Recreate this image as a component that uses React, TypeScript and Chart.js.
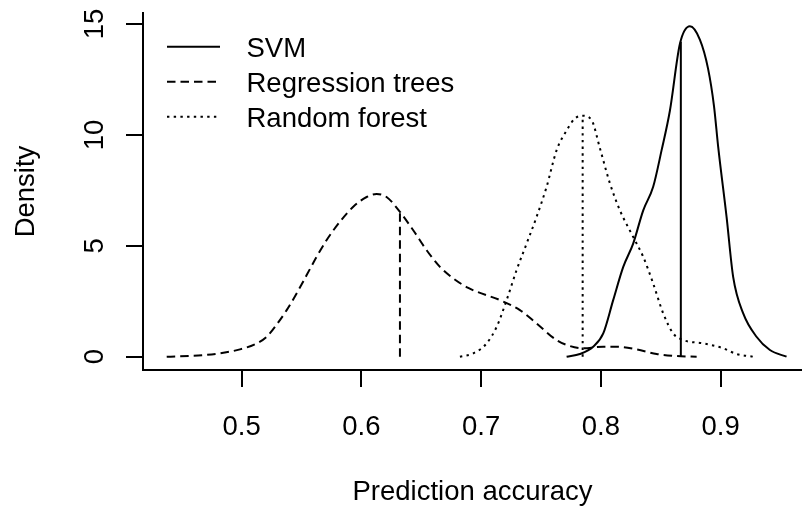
import React, { useEffect, useRef } from "react";
import { Chart, registerables } from "chart.js";

Chart.register(...registerables);

// ---- data ----
const svmX = [0.7714, 0.7825, 0.7936, 0.802, 0.8103, 0.8187, 0.827, 0.8354, 0.8437, 0.8507, 0.8577, 0.866, 0.8744, 0.8827, 0.8895, 0.8945, 0.898, 0.905, 0.9105, 0.9189, 0.93, 0.9412, 0.9551];
const svmY = [0, 0.12, 0.45, 1.05, 2.55, 4.05, 5.1, 6.6, 7.66, 9.3, 11.1, 14.1, 14.9, 14.3, 13.0, 11.3, 9.46, 6.3, 3.6, 1.95, 0.9, 0.3, 0];

const treeX = [0.4374, 0.4708, 0.4986, 0.5125, 0.5209, 0.529, 0.5376, 0.546, 0.5543, 0.5626, 0.571, 0.582, 0.5932, 0.6044, 0.6127, 0.621, 0.6322, 0.6433, 0.6545, 0.6656, 0.6767, 0.6893, 0.7171, 0.7324, 0.7463, 0.763, 0.7742, 0.7853, 0.802, 0.8132, 0.8299, 0.8466, 0.8633, 0.88];
const treeY = [0, 0.08, 0.33, 0.6, 0.9, 1.43, 2.1, 2.86, 3.68, 4.5, 5.26, 6.08, 6.76, 7.2, 7.33, 7.2, 6.53, 5.7, 4.8, 4.05, 3.53, 3.1, 2.52, 2.1, 1.5, 0.75, 0.48, 0.38, 0.45, 0.45, 0.33, 0.12, 0.03, 0];

const forestX = [0.6823, 0.6934, 0.7046, 0.713, 0.7213, 0.7296, 0.738, 0.7463, 0.7547, 0.763, 0.7714, 0.7783, 0.7848, 0.7923, 0.7992, 0.8076, 0.8159, 0.827, 0.8354, 0.8437, 0.8521, 0.8604, 0.8688, 0.8855, 0.9022, 0.9133, 0.9272];
const forestY = [0, 0.15, 0.6, 1.35, 2.55, 3.9, 5.1, 6.3, 7.66, 9.3, 10.2, 10.74, 10.86, 10.66, 9.4, 7.81, 6.6, 5.4, 4.5, 3.3, 1.95, 1.05, 0.75, 0.6, 0.38, 0.12, 0];

// vertical marker lines: position and height (reaching the curve)
const markerX = [0.8668, 0.6322, 0.7848];
const markerTop = [14.2, 6.53, 10.86];

const seriesNames = ["SVM", "Regression trees", "Random forest"];
const xTicks = [0.5, 0.6, 0.7, 0.8, 0.9];
const xTickLabels = ["0.5", "0.6", "0.7", "0.8", "0.9"];
const yTicks = [0, 5, 10, 15];
const yTickLabels = ["0", "5", "10", "15"];
const xTitle = "Prediction accuracy";
const yTitle = "Density";

const DASHES: number[][] = [[], [8.5, 5], [2.4, 4.3]];
const FONT = '27.5px "Liberation Sans", Arial, sans-serif';

const pts = (xs: number[], ys: number[]) => xs.map((x, i) => ({ x, y: ys[i] }));

const textPlugin = {
  id: "rText",
  afterDraw(chart: any) {
    const ctx = chart.ctx as CanvasRenderingContext2D;
    const xs = chart.scales.x;
    const ys = chart.scales.y;
    const area = chart.chartArea;
    ctx.save();
    ctx.fillStyle = "#000";
    ctx.font = FONT;
    ctx.textBaseline = "alphabetic";
    ctx.textAlign = "center";
    xTicks.forEach((v, i) => ctx.fillText(xTickLabels[i], xs.getPixelForValue(v), 435));
    yTicks.forEach((v, i) => {
      ctx.save();
      ctx.translate(103, ys.getPixelForValue(v));
      ctx.rotate(-Math.PI / 2);
      ctx.fillText(yTickLabels[i], 0, 0);
      ctx.restore();
    });
    ctx.fillText(xTitle, (area.left + area.right) / 2, 500);
    ctx.save();
    ctx.translate(34, (area.top + area.bottom) / 2);
    ctx.rotate(-Math.PI / 2);
    ctx.fillText(yTitle, 0, 0);
    ctx.restore();

    // legend
    ctx.textAlign = "left";
    seriesNames.forEach((name, i) => {
      const yLine = 46.7 + i * 35;
      ctx.beginPath();
      ctx.setLineDash(DASHES[i]);
      ctx.lineWidth = 2;
      ctx.strokeStyle = "#000";
      ctx.moveTo(167, yLine);
      ctx.lineTo(220, yLine);
      ctx.stroke();
      ctx.setLineDash([]);
      ctx.fillText(name, 246.5, yLine + 10.5);
    });
    ctx.restore();
  },
};

export default function App() {
  const ref = useRef<HTMLCanvasElement | null>(null);
  useEffect(() => {
    if (!ref.current) return;
    const curves = [pts(svmX, svmY), pts(treeX, treeY), pts(forestX, forestY)];
    const datasets: any[] = [];
    curves.forEach((d, i) => {
      datasets.push({
        label: seriesNames[i],
        data: d,
        showLine: true,
        borderColor: "#000",
        borderWidth: 2,
        borderDash: DASHES[i],
        pointRadius: 0,
        fill: false,
        cubicInterpolationMode: "monotone",
      });
      datasets.push({
        label: seriesNames[i] + " mark",
        data: [
          { x: markerX[i], y: 0 },
          { x: markerX[i], y: markerTop[i] },
        ],
        showLine: true,
        borderColor: "#000",
        borderWidth: 2,
        borderDash: DASHES[i],
        pointRadius: 0,
        fill: false,
      });
    });
    const chart = new Chart(ref.current, {
      type: "scatter",
      data: { datasets },
      options: {
        responsive: false,
        animation: false,
        devicePixelRatio: 1,
        layout: { padding: { top: 13, left: 0, right: 0, bottom: 0 } },
        plugins: { legend: { display: false }, tooltip: { enabled: false }, title: { display: false } },
        scales: {
          x: {
            type: "linear",
            min: 0.4176,
            max: 0.968,
            afterBuildTicks: (s: any) => {
              s.ticks = xTicks.map((v) => ({ value: v }));
            },
            afterFit: (s: any) => {
              s.height = 136;
            },
            ticks: { display: false },
            grid: { display: true, drawOnChartArea: false, drawTicks: true, tickLength: 17, color: "#000", lineWidth: 2 },
            border: { display: true, color: "#000", width: 2 },
          },
          y: {
            type: "linear",
            min: -0.6,
            max: 15.495,
            afterBuildTicks: (s: any) => {
              s.ticks = yTicks.map((v) => ({ value: v }));
            },
            afterFit: (s: any) => {
              s.width = 143;
            },
            ticks: { display: false },
            grid: { display: true, drawOnChartArea: false, drawTicks: true, tickLength: 17, color: "#000", lineWidth: 2 },
            border: { display: true, color: "#000", width: 2 },
          },
        },
      } as any,
      plugins: [textPlugin],
    });
    return () => chart.destroy();
  }, []);
  return (
    <div style={{ position: "absolute", left: 0, top: 0, width: 802, height: 506, background: "#fff" }}>
      <canvas ref={ref} width={802} height={506} />
    </div>
  );
}
